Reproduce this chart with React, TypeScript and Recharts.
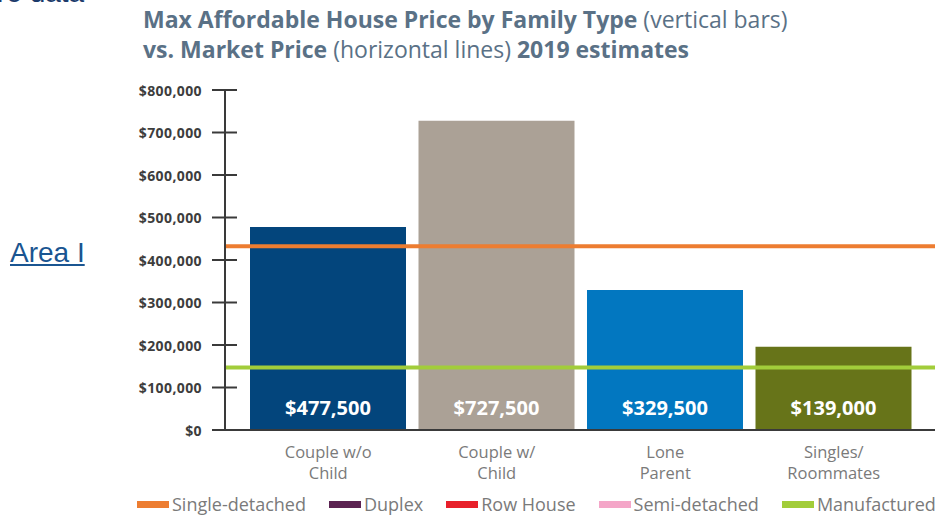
import React from 'react';
import { BarChart, Bar, XAxis, YAxis, Cell, LabelList, ReferenceLine } from 'recharts';

const categories = ['Couple w/o\nChild', 'Couple w/\nChild', 'Lone\nParent', 'Singles/\nRoommates'];
const barValues = [477500, 727500, 329500, 196000];
const barLabels = ['$477,500', '$727,500', '$329,500', '$139,000'];
const barColors = ['#03457c', '#aba196', '#0277c0', '#677419'];

const marketNames = ['Single-detached', 'Manufactured'];
const marketValues = [432500, 147000];
const marketColors = ['#ed7d31', '#a2cd3a'];

const legendNames = ['Single-detached', 'Duplex', 'Row House', 'Semi-detached', 'Manufactured'];
const legendColors = ['#ed7d31', '#5c2352', '#e8202a', '#f4a6c8', '#a2cd3a'];

const yTicks = [0, 100000, 200000, 300000, 400000, 500000, 600000, 700000, 800000];

const data = categories.map((c, i) => ({ name: c, value: barValues[i], label: barLabels[i] }));

const fmt = (v: number) => '$' + v.toLocaleString('en-US');

const YTick = (props: any) => {
  const { x, y, payload } = props;
  return (
    <g>
      <line x1={x - 13} x2={x + 12} y1={y} y2={y} stroke="#3a3a3a" strokeWidth={2} />
      <text x={x - 23} y={y} textAnchor="end" dominantBaseline="central" fill="#3d3d3d"
        style={{ fontFamily: '"Open Sans"', fontWeight: 700, fontSize: 14, letterSpacing: 0.4 }}>
        {fmt(payload.value)}
      </text>
    </g>
  );
};

const XTick = (props: any) => {
  const { x, y, payload } = props;
  const lines = String(payload.value).split('\n');
  return (
    <g>
      {lines.map((l, i) => (
        <text key={i} x={x} y={y + 21 + i * 21} textAnchor="middle" dominantBaseline="central" fill="#7a7a7a"
          style={{ fontFamily: '"Open Sans"', fontSize: 16.5 }}>
          {l}
        </text>
      ))}
    </g>
  );
};

const BarLabel = (props: any) => {
  const { x, y, width, height, value } = props;
  return (
    <text x={x + width / 2} y={y + height - 23} textAnchor="middle" dominantBaseline="central" fill="#ffffff"
      style={{ fontFamily: '"Open Sans"', fontWeight: 700, fontSize: 20 }}>
      {value}
    </text>
  );
};

export default function App() {
  return (
    <div style={{ position: 'absolute', left: 0, top: 0, width: 936, height: 516, overflow: 'hidden', background: '#fff' }}>
      <div style={{ position: 'absolute', left: -3, top: -21, fontFamily: '"Liberation Sans"', fontSize: 28, lineHeight: '28px', color: '#1b3a6b', whiteSpace: 'nowrap' }}>
        re data
      </div>
      <div style={{ position: 'absolute', left: 10, top: 236, fontFamily: '"Liberation Sans"', fontSize: 28, lineHeight: '34px', color: '#1a5591', textDecoration: 'underline' }}>
        Area I
      </div>
      <div style={{ position: 'absolute', left: 143, top: 4, fontFamily: '"Open Sans"', fontSize: 23, lineHeight: '30px', color: '#5a7186', whiteSpace: 'nowrap' }}>
        <div><b>Max Affordable House Price by Family Type</b> (vertical bars)</div>
        <div><b>vs. Market Price</b> (horizontal lines) <b>2019 estimates</b></div>
      </div>
      <div style={{ position: 'absolute', left: 0, top: 0 }}>
        <BarChart width={936} height={516} data={data} margin={{ top: 90, right: 1, bottom: 26, left: 0 }}>
          <YAxis width={225} domain={[0, 800000]} ticks={yTicks} interval={0} tick={<YTick />} tickLine={false}
            tickSize={0} tickMargin={0} axisLine={{ stroke: '#3a3a3a', strokeWidth: 2 }} />
          <XAxis dataKey="name" height={60} padding={{ left: 19, right: 17 }} tick={<XTick />} tickLine={false}
            tickSize={0} tickMargin={0} interval={0} axisLine={{ stroke: '#3a3a3a', strokeWidth: 2 }} />
          <Bar dataKey="value" barSize={156} isAnimationActive={false}>
            {data.map((d, i) => (
              <Cell key={i} fill={barColors[i]} />
            ))}
            <LabelList dataKey="label" content={<BarLabel />} />
          </Bar>
          {marketValues.map((v, i) => (
            <ReferenceLine key={marketNames[i]} y={v} stroke={marketColors[i]} strokeWidth={4} />
          ))}
        </BarChart>
      </div>
      <div style={{ position: 'absolute', left: 137, top: 492, display: 'flex', alignItems: 'center', fontFamily: '"Open Sans"', fontSize: 18, color: '#7a7a7a', whiteSpace: 'nowrap' }}>
        {legendNames.map((n, i) => (
          <div key={n} style={{ display: 'flex', alignItems: 'center', marginRight: 23 }}>
            <div style={{ width: 32, height: 7, background: legendColors[i], marginRight: 3 }} />
            <span>{n}</span>
          </div>
        ))}
      </div>
    </div>
  );
}
